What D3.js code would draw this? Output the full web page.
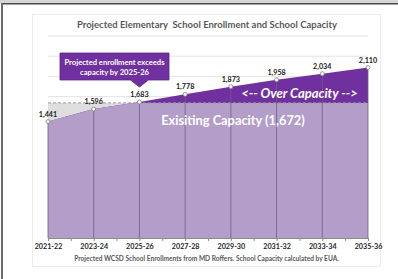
<!DOCTYPE html>
<html><head><meta charset="utf-8">
<script src="https://cdn.jsdelivr.net/npm/d3@7"></script>
<style>
html,body{margin:0;padding:0;background:#fff;}
svg{display:block;font-family:Lato,"Open Sans",sans-serif;}
</style></head>
<body>
<svg id="c" width="398" height="279"></svg>
<script>
// ---- data ----
const allYears = ["2021-22","2022-23","2023-24","2024-25","2025-26","2026-27","2027-28","2028-29","2029-30","2030-31","2031-32","2032-33","2033-34","2034-35","2035-36"];
const years = ["2021-22","2023-24","2025-26","2027-28","2029-30","2031-32","2033-34","2035-36"];
const enrollment = [1441,1596,1683,1778,1873,1958,2034,2110];
const capacity = 1672;
const gridTicks = [0,250,500,750,1000,1250,1500,1750,2000,2250,2500];
const title = "Projected Elementary  School Enrollment and School Capacity";
const note = "Projected WCSD School Enrollments from MD Roffers. School Capacity calculated by EUA.";
const calloutLines = ["Projected enrollment exceeds","capacity by 2025-26"];
const overLabel = "<-- Over Capacity -->";
const capLabel = "Exisiting Capacity (1,672)";

const data = years.map((y,i)=>({year:y, value:enrollment[i]}));
const svg = d3.select("#c");

// slide frame
svg.append("rect").attr("x",0).attr("y",0).attr("width",398).attr("height",3.5).attr("fill","#d6d6d6");
svg.append("line").attr("x1",1).attr("x2",398).attr("y1",3.8).attr("y2",3.8).attr("stroke","#4a4a4a").attr("stroke-width",1.5);
svg.append("line").attr("x1",2).attr("x2",2).attr("y1",3).attr("y2",279).attr("stroke","#6b6b6b").attr("stroke-width",2);

// chart box
svg.append("rect").attr("x",32.5).attr("y",14.5).attr("width",348).attr("height",252)
  .attr("fill","#fff").attr("stroke","#ececec").attr("stroke-width",1);

const x = d3.scalePoint().domain(allYears).range([48,368]);
const y = d3.scaleLinear().domain([0,2500]).range([238,36]);

// gridlines
svg.append("g").selectAll("line").data(gridTicks).join("line")
  .attr("x1",48).attr("x2",368).attr("y1",d=>y(d)).attr("y2",d=>y(d))
  .attr("stroke","#e3e3e3").attr("stroke-width",1);

// capacity area (light gray)
svg.append("path").datum(data)
  .attr("d", d3.area().x(d=>x(d.year)).y0(y(0)).y1(y(capacity)))
  .attr("fill","#dedede");

// enrollment area (dark purple, over capacity)
const area = d3.area().x(d=>x(d.year)).y0(y(0)).y1(d=>y(d.value));
svg.append("path").datum(data).attr("d",area).attr("fill","#7030a0");

// clipped light purple (within capacity)
svg.append("clipPath").attr("id","capclip").append("rect")
  .attr("x",0).attr("y",y(capacity)).attr("width",398).attr("height",y(0)-y(capacity));
svg.append("path").datum(data).attr("d",area).attr("fill","#b39dc9").attr("clip-path","url(#capclip)");

// dashed capacity line
svg.append("line").attr("x1",x(years[0])).attr("x2",x(years[years.length-1]))
  .attr("y1",y(capacity)).attr("y2",y(capacity))
  .attr("stroke","#9a9a9a").attr("stroke-width",1).attr("stroke-dasharray","3,2");

// drop lines
svg.append("g").selectAll("line").data(data).join("line")
  .attr("x1",d=>x(d.year)).attr("x2",d=>x(d.year)).attr("y1",d=>y(d.value)).attr("y2",y(0))
  .attr("stroke","#6f5f7f").attr("stroke-width",0.8);

// x axis
const xAxis = d3.axisBottom(x).tickSize(3).tickPadding(3)
  .tickFormat(d=>years.includes(d)?d:"");
const gx = svg.append("g").attr("transform",`translate(0,${y(0)})`).call(xAxis);
gx.select(".domain").attr("stroke","#8c8c8c");
gx.selectAll(".tick line").attr("stroke","#8c8c8c");
gx.selectAll("text").attr("font-size",7.2).attr("font-weight","bold").attr("fill","#262626")
  .attr("font-family","Lato,sans-serif");

// markers
svg.append("g").selectAll("circle").data(data).join("circle")
  .attr("cx",d=>x(d.year)).attr("cy",d=>y(d.value)).attr("r",2)
  .attr("fill","#fff").attr("stroke","#7f7f7f").attr("stroke-width",0.8);

// data labels
const fmt = d3.format(",");
svg.append("g").selectAll("text").data(data).join("text")
  .attr("x",d=>x(d.year)).attr("y",d=>y(d.value)-5)
  .attr("text-anchor","middle").attr("font-size",7.2).attr("font-weight","bold").attr("fill","#1a1a1a")
  .text(d=>fmt(d.value));

// title
svg.append("text").attr("x",207).attr("y",28).attr("text-anchor","middle")
  .attr("font-size",9.5).attr("font-weight","bold").attr("fill","#595959")
  .style("white-space","pre").text(title);

// footnote
svg.append("text").attr("x",206.5).attr("y",261).attr("text-anchor","middle")
  .attr("font-size",6.6).attr("font-weight","bold").attr("fill","#595959").text(note);

// in-chart labels
svg.append("text").attr("x",299.5).attr("y",98).attr("text-anchor","middle")
  .attr("font-size",13).attr("font-weight","bold").attr("font-style","italic").attr("fill","#fff").text(overLabel);
svg.append("text").attr("x",233).attr("y",124.5).attr("text-anchor","middle")
  .attr("font-size",12.8).attr("font-weight","bold").attr("fill","#fff").text(capLabel);

// callout
const tipX = x(years[2]), tipY = 87;
const bx0=60, bx1=169, by0=53, by1=80;
svg.append("path")
  .attr("d",`M${bx0},${by0}H${bx1}V${by1}H${tipX+9}L${tipX},${tipY}L${tipX-9},${by1}H${bx0}Z`)
  .attr("fill","#7030a0").attr("stroke","#5b2585").attr("stroke-width",0.8);
svg.append("g").selectAll("text").data(calloutLines).join("text")
  .attr("x",(bx0+bx1)/2).attr("y",(d,i)=>64.5+i*10).attr("text-anchor","middle")
  .attr("font-size",7.6).attr("font-weight","bold").attr("fill","#fff").text(d=>d);
</script>
</body></html>
